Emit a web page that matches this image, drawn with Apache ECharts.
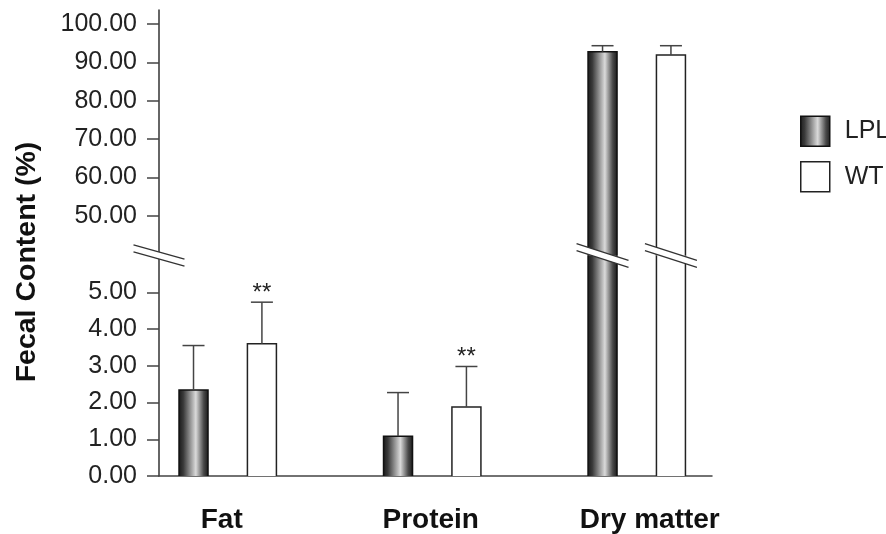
<!DOCTYPE html>
<html>
<head>
<meta charset="utf-8">
<script src="https://cdn.jsdelivr.net/npm/echarts@6/dist/echarts.min.js"></script>
<style>
  html, body { margin: 0; padding: 0; background: #fff; }
  #chart { width: 886px; height: 534px; }
</style>
</head>
<body>
<div id="chart"></div>
<script>
// ---- data ----
const categories = ['Fat', 'Protein', 'Dry matter'];
const lplMean = [2.34, 1.08, 92.8];
const lplErr  = [1.21, 1.19, 1.55];
const wtMean  = [3.60, 1.88, 91.9];
const wtErr   = [1.13, 1.10, 2.45];
const wtSig   = ['**', '**', ''];
const lowerTicks = [0, 1, 2, 3, 4, 5];
const upperTicks = [50, 60, 70, 80, 90, 100];

// ---- layout / style constants ----
const FONT = '"Liberation Sans", Arial, Helvetica, sans-serif';
const X_MIN = -0.336, X_MAX = 2.368;
const LOW_MIN = 0, LOW_MAX = 6;
const UP_MIN = 39.7, UP_MAX = 103.65;
const BAR_W = 29, SHIFT = 34.2, CAP_W = 22;
const AXIS_COLOR = '#333';

function lplGradient() {
  return new echarts.graphic.LinearGradient(0, 0, 1, 0, [
    { offset: 0, color: '#1c1c1c' },
    { offset: 0.15, color: '#3a3a3a' },
    { offset: 0.58, color: '#dadada' },
    { offset: 0.85, color: '#4a4a4a' },
    { offset: 1, color: '#1c1c1c' }
  ]);
}

function breakMark(cx, cy, halfW, slope, gap) {
  const pts = (off) => [[cx - halfW, cy - slope * halfW + off], [cx + halfW, cy + slope * halfW + off]];
  const a = pts(-gap), b = pts(gap);
  return [
    { type: 'polygon', shape: { points: [a[0], a[1], b[1], b[0]] }, style: { fill: '#fff', stroke: null }, z2: 20 },
    { type: 'line', shape: { x1: a[0][0], y1: a[0][1], x2: a[1][0], y2: a[1][1] }, style: { stroke: '#333', lineWidth: 1.3 }, z2: 21 },
    { type: 'line', shape: { x1: b[0][0], y1: b[0][1], x2: b[1][0], y2: b[1][1] }, style: { stroke: '#333', lineWidth: 1.3 }, z2: 21 }
  ];
}

function makeRender(kind, grid) {
  return function (params, api) {
    const cat = api.value(0), v = api.value(1), e = api.value(2);
    const idx = params.dataIndex;
    const sig = kind === 'WT' ? wtSig[idx] : '';
    const cs = params.coordSys;
    const top = cs.y, bottom = cs.y + cs.height;
    const cx = api.coord([cat, v])[0] + (kind === 'LPL' ? -SHIFT : SHIFT);
    const x0 = cx - BAR_W / 2, x1 = cx + BAR_W / 2;
    const yV = api.coord([cat, v])[1];
    const yE = api.coord([cat, v + e])[1];
    const children = [];
    let yb, yt, closedTop;
    if (grid === 'lower') {
      yb = api.coord([cat, 0])[1];
      yt = Math.max(yV, top);
      closedTop = yV >= top;
    } else {
      if (yV >= bottom) return { type: 'group', children: [] };
      yb = bottom;
      yt = yV;
      closedTop = true;
    }
    const fill = kind === 'LPL' ? lplGradient() : '#ffffff';
    const stroke = kind === 'LPL' ? '#111' : '#222';
    children.push({ type: 'rect', shape: { x: x0, y: yt, width: BAR_W, height: yb - yt }, style: { fill: fill, stroke: null }, z2: 1 });
    if (closedTop) {
      children.push({ type: 'polyline', shape: { points: [[x0, yb], [x0, yt], [x1, yt], [x1, yb]] },
        style: { stroke: stroke, lineWidth: 1.5, fill: null }, z2: 2 });
      // error bar
      children.push({ type: 'line', shape: { x1: cx, y1: yt, x2: cx, y2: yE }, style: { stroke: '#444', lineWidth: 1.5 }, z2: 3 });
      children.push({ type: 'line', shape: { x1: cx - CAP_W / 2, y1: yE, x2: cx + CAP_W / 2, y2: yE }, style: { stroke: '#444', lineWidth: 1.5 }, z2: 3 });
      if (sig) {
        children.push({ type: 'text', style: { text: sig, x: cx, y: yE - 9, align: 'center', verticalAlign: 'middle',
          font: '24px ' + FONT, fill: '#222' }, z2: 3 });
      }
    } else {
      children.push({ type: 'line', shape: { x1: x0, y1: yb, x2: x0, y2: yt }, style: { stroke: stroke, lineWidth: 1.5 }, z2: 2 });
      children.push({ type: 'line', shape: { x1: x1, y1: yb, x2: x1, y2: yt }, style: { stroke: stroke, lineWidth: 1.5 }, z2: 2 });
    }
    if (grid === 'upper' && v > LOW_MAX) {
      breakMark(cx, bottom, 26, 0.32, 3.5).forEach(c => children.push(c));
    }
    return { type: 'group', children: children };
  };
}

function toData(means, errs) {
  return means.map((m, i) => [i, m, errs[i]]);
}

const chart = echarts.init(document.getElementById('chart'), null, { renderer: 'canvas' });

const yAxisCommon = {
  type: 'value',
  axisLine: { show: true, onZero: false, lineStyle: { color: AXIS_COLOR, width: 1.5 } },
  axisTick: { show: true, length: 12, lineStyle: { color: '#444', width: 1.5 } },
  splitLine: { show: false },
  axisLabel: { margin: 22, fontSize: 25, color: '#222', fontFamily: FONT, formatter: v => Number(v).toFixed(2) }
};

const catLabelStyle = { fontSize: 28, fontWeight: 'bold', color: '#111', fontFamily: FONT };

const option = {
  backgroundColor: '#ffffff',
  animation: false,
  grid: [
    { left: 159, right: 174, top: 255.5, bottom: 56.5 },
    { left: 159, right: 174, top: 10, bottom: 278.5 }
  ],
  xAxis: [
    {
      type: 'value', gridIndex: 0, min: X_MIN, max: X_MAX,
      axisLine: { show: true, onZero: false, lineStyle: { color: '#444', width: 1.5 } },
      axisTick: { show: false },
      splitLine: { show: false },
      axisLabel: {
        customValues: [0, 1, 2],
        margin: 30,
        formatter: v => '{c' + v + '|' + categories[v] + '}',
        rich: {
          c0: Object.assign({}, catLabelStyle, { padding: [0, 12, 0, 0] }),
          c1: Object.assign({}, catLabelStyle, { padding: [0, 3, 0, 0] }),
          c2: Object.assign({}, catLabelStyle, { padding: [0, 0, 0, 26] })
        }
      }
    },
    { type: 'value', gridIndex: 1, min: X_MIN, max: X_MAX, show: false }
  ],
  yAxis: [
    Object.assign({}, yAxisCommon, {
      gridIndex: 0, min: LOW_MIN, max: LOW_MAX,
      axisTick: Object.assign({}, yAxisCommon.axisTick, { customValues: lowerTicks }),
      axisLabel: Object.assign({}, yAxisCommon.axisLabel, { customValues: lowerTicks })
    }),
    Object.assign({}, yAxisCommon, {
      gridIndex: 1, min: UP_MIN, max: UP_MAX,
      axisTick: Object.assign({}, yAxisCommon.axisTick, { customValues: upperTicks }),
      axisLabel: Object.assign({}, yAxisCommon.axisLabel, { customValues: upperTicks })
    })
  ],
  legend: {
    orient: 'vertical',
    left: 800, top: 115.5,
    padding: 0,
    itemWidth: 29, itemHeight: 30, itemGap: 14,
    selectedMode: false,
    textStyle: { fontSize: 25, color: '#222', fontFamily: FONT, padding: [0, 0, 0, 10] },
    data: [
      { name: 'LPL', icon: 'rect', itemStyle: { color: lplGradient(), borderColor: '#111', borderWidth: 1.5 } },
      { name: 'WT', icon: 'rect', itemStyle: { color: '#ffffff', borderColor: '#222', borderWidth: 1.5 } }
    ]
  },
  series: [
    { name: 'LPL', type: 'custom', xAxisIndex: 0, yAxisIndex: 0, z: 2, renderItem: makeRender('LPL', 'lower'),
      encode: { x: 0, y: 1 }, data: toData(lplMean, lplErr), itemStyle: { color: '#555' } },
    { name: 'WT', type: 'custom', xAxisIndex: 0, yAxisIndex: 0, z: 2, renderItem: makeRender('WT', 'lower'),
      encode: { x: 0, y: 1 }, data: toData(wtMean, wtErr), itemStyle: { color: '#fff' } },
    { name: 'LPL', type: 'custom', xAxisIndex: 1, yAxisIndex: 1, z: 3, renderItem: makeRender('LPL', 'upper'),
      encode: { x: 0, y: 1 }, data: toData(lplMean, lplErr), itemStyle: { color: '#555' } },
    { name: 'WT', type: 'custom', xAxisIndex: 1, yAxisIndex: 1, z: 3, renderItem: makeRender('WT', 'upper'),
      encode: { x: 0, y: 1 }, data: toData(wtMean, wtErr), itemStyle: { color: '#fff' } }
  ]
};

chart.setOption(option);

// y-axis break mark and axis title
const p = chart.convertToPixel({ gridIndex: 1 }, [X_MIN, UP_MIN]);
const mark = breakMark(p[0], p[1], 25.5, 0.28, 3.5).map(el => Object.assign({}, el, { z: 100 }));
chart.setOption({
  graphic: mark.concat([
    { type: 'text', x: 27.5, y: 262, rotation: Math.PI / 2, z: 100,
      style: { text: 'Fecal Content (%)', font: 'bold 28.5px ' + FONT, fill: '#111', align: 'center', verticalAlign: 'middle' } }
  ])
});
</script>
</body>
</html>
